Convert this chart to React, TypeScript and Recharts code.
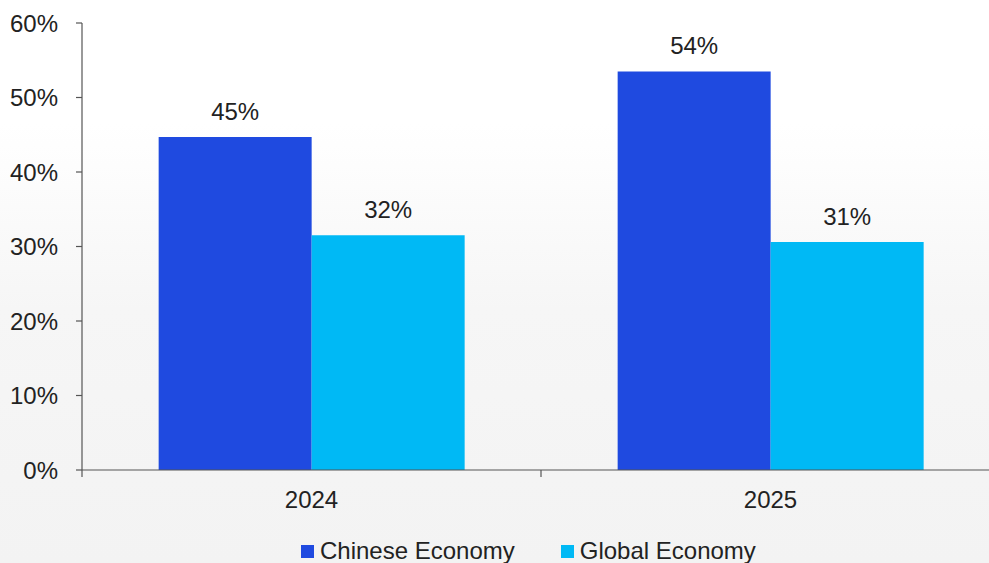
import { BarChart, Bar, XAxis, YAxis, LabelList, Legend } from "recharts";

const YEARS = ["2024", "2025"];
const CHINESE = [44.7, 53.5];
const GLOBAL = [31.5, 30.6];
const Y_TICKS = [0, 10, 20, 30, 40, 50, 60];

const BLUE = "#1f4ae0";
const CYAN = "#00b9f5";
const TEXT = "#222222";
const AXIS = "#555555";
const FONT = "'Liberation Sans', Arial, sans-serif";
const FS = 24;

const data = YEARS.map((year, i) => ({
  year,
  chinese: CHINESE[i],
  global: GLOBAL[i],
}));

const XTick = (props: any) => {
  const { x, y, payload, index, width, visibleTicksCount } = props;
  const band = width / (visibleTicksCount || YEARS.length);
  const axisY = y - 22;
  return (
    <g>
      <line
        x1={x - band / 2}
        x2={x - band / 2}
        y1={axisY}
        y2={axisY + 7}
        stroke={AXIS}
        strokeWidth={1.2}
      />
      {index === YEARS.length - 1 && (
        <line
          x1={x + band / 2}
          x2={x + band / 2}
          y1={axisY}
          y2={axisY + 7}
          stroke={AXIS}
          strokeWidth={1.2}
        />
      )}
      <text
        x={x}
        y={axisY + 38}
        textAnchor="middle"
        fill={TEXT}
        fontSize={FS}
        fontFamily={FONT}
      >
        {payload.value}
      </text>
    </g>
  );
};

const LegendContent = (props: any) => {
  const items = props.payload || [];
  return (
    <div
      style={{
        display: "flex",
        alignItems: "center",
        height: 32,
        paddingLeft: 301,
        fontFamily: FONT,
        fontSize: FS,
        color: TEXT,
      }}
    >
      {items.map((it: any, i: number) => (
        <div
          key={i}
          style={{
            display: "flex",
            alignItems: "center",
            marginRight: 46,
          }}
        >
          <span
            style={{
              display: "inline-block",
              width: 13,
              height: 13,
              background: it.color,
              marginRight: 6,
            }}
          />
          <span>{it.value}</span>
        </div>
      ))}
    </div>
  );
};

export default function App() {
  return (
    <div
      style={{
        position: "absolute",
        left: 0,
        top: 0,
        width: 989,
        height: 563,
        overflow: "hidden",
        background:
          "linear-gradient(180deg, #ffffff 0%, #ffffff 22%, #f6f6f6 55%, #f3f3f3 100%)",
      }}
    >
      <BarChart
        width={1010}
        height={567}
        data={data}
        margin={{ top: 23, right: 10, left: 0, bottom: 0 }}
        barCategoryGap="16.7%"
        barGap={0}
      >
        <YAxis
          width={82}
          domain={[0, 60]}
          ticks={Y_TICKS}
          tickFormatter={(v: number) => `${v}%`}
          axisLine={{ stroke: AXIS, strokeWidth: 1.2 }}
          tickLine={{ stroke: AXIS, strokeWidth: 1.2 }}
          tickSize={6}
          tickMargin={18}
          tick={{ fill: TEXT, fontSize: FS, fontFamily: FONT }}
          interval={0}
        />
        <XAxis
          dataKey="year"
          height={65}
          axisLine={{ stroke: AXIS, strokeWidth: 1.2 }}
          tickLine={false}
          tickSize={0}
          tickMargin={22}
          tick={<XTick />}
          interval={0}
        />
        <Legend
          verticalAlign="bottom"
          content={<LegendContent />}
          wrapperStyle={{ left: 0, width: 1010, height: 32 }}
        />
        <Bar
          dataKey="chinese"
          name="Chinese Economy"
          fill={BLUE}
          isAnimationActive={false}
        >
          <LabelList
            dataKey="chinese"
            position="top"
            offset={17}
            formatter={(v: number) => `${Math.round(v)}%`}
            style={{ fill: TEXT, fontSize: FS, fontFamily: FONT }}
          />
        </Bar>
        <Bar
          dataKey="global"
          name="Global Economy"
          fill={CYAN}
          isAnimationActive={false}
        >
          <LabelList
            dataKey="global"
            position="top"
            offset={17}
            formatter={(v: number) => `${Math.round(v)}%`}
            style={{ fill: TEXT, fontSize: FS, fontFamily: FONT }}
          />
        </Bar>
      </BarChart>
    </div>
  );
}
